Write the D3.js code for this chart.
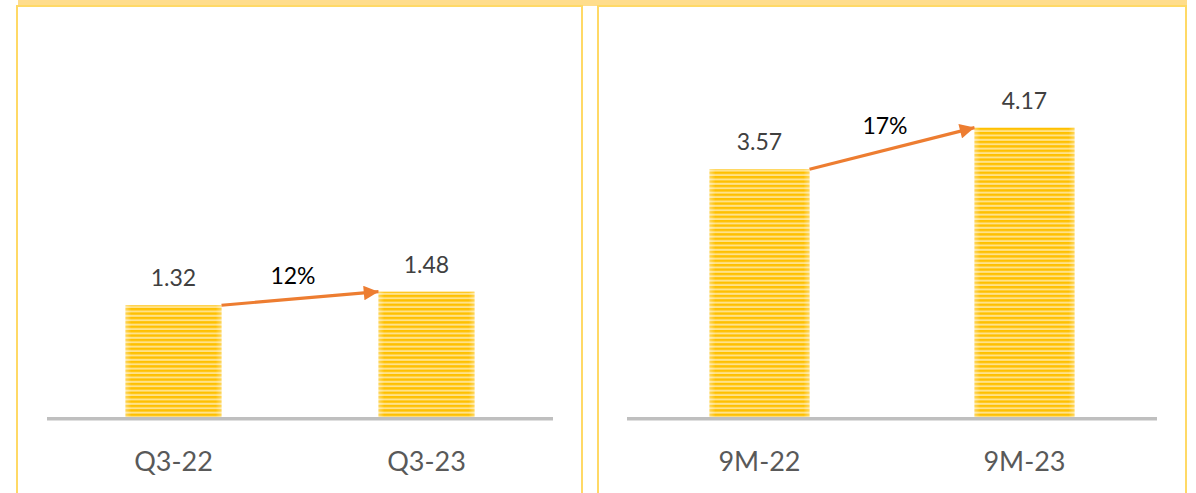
<!DOCTYPE html>
<html>
<head>
<meta charset="utf-8">
<script src="https://cdn.jsdelivr.net/npm/d3@7"></script>
<style>
  html, body { margin: 0; padding: 0; background: #fff; }
  svg { display: block; }
  .val { font-family: Lato, "Noto Sans", sans-serif; font-size: 23px; fill: #404040; text-anchor: middle; }
  .pct { font-family: Lato, "Noto Sans", sans-serif; font-size: 23px; fill: #000; text-anchor: middle; }
  .cat { font-family: Lato, "Noto Sans", sans-serif; font-size: 27px; fill: #595959; text-anchor: middle; }
</style>
</head>
<body>
<script>
// data
const quarterCats = ['Q3-22', 'Q3-23']
const quarterVals = [1.32, 1.48]
const quarterGrowth = '12%'

const ytdCats = ['9M-22', '9M-23']
const ytdVals = [3.57, 4.17]
const ytdGrowth = '17%'

const W = 1196, H = 493
const baseY = 417

const svg = d3.select('body').append('svg')
    .attr('width', W)
    .attr('height', H)

const defs = svg.append('defs')

// horizontal stripe fill for bars
const pat = defs.append('pattern')
    .attr('id', 'stripes')
    .attr('patternUnits', 'userSpaceOnUse')
    .attr('width', 8)
    .attr('height', 4.4)
pat.append('rect').attr('width', 8).attr('height', 4.4).attr('fill', '#FFE28A')
pat.append('rect').attr('width', 8).attr('height', 2.4).attr('fill', '#FFC000')

const edge = defs.append('linearGradient').attr('id', 'edge')
edge.append('stop').attr('offset', '0').attr('stop-color', '#fff').attr('stop-opacity', 0.35)
edge.append('stop').attr('offset', '0.06').attr('stop-color', '#fff').attr('stop-opacity', 0)
edge.append('stop').attr('offset', '0.94').attr('stop-color', '#fff').attr('stop-opacity', 0)
edge.append('stop').attr('offset', '1').attr('stop-color', '#fff').attr('stop-opacity', 0.35)

defs.append('marker')
    .attr('id', 'arrow')
    .attr('viewBox', '0 0 10 10')
    .attr('refX', 10)
    .attr('refY', 5)
    .attr('markerWidth', 5)
    .attr('markerHeight', 4.6)
    .attr('markerUnits', 'strokeWidth')
    .attr('orient', 'auto')
    .append('path')
    .attr('d', 'M0,0 L10,5 L0,10 Z')
    .attr('fill', '#ED7D31')

// frame: band across the top and two panel borders
svg.append('rect')
    .attr('x', 18).attr('y', 0)
    .attr('width', 1169).attr('height', 6)
    .attr('fill', '#FFDD8C')

const panels = [
    { x0: 17, x1: 582, axis: [47, 553], yMax: 4.5, yTop: 36, cats: quarterCats, vals: quarterVals, growth: quarterGrowth, barW: 96 },
    { x0: 598, x1: 1186, axis: [627, 1157], yMax: 5, yTop: 70, cats: ytdCats, vals: ytdVals, growth: ytdGrowth, barW: 100 }
]

function drawPanel (p) {
    const g = svg.append('g')

    g.append('rect')
        .attr('x', p.x0).attr('y', 6)
        .attr('width', p.x1 - p.x0).attr('height', H)
        .attr('fill', 'none')
        .attr('stroke', '#FFD966')
        .attr('stroke-width', 2)

    const x = d3.scalePoint()
        .domain(p.cats)
        .range(p.axis)
        .padding(0.5)
    const y = d3.scaleLinear()
        .domain([0, p.yMax])
        .range([baseY, p.yTop])

    const data = p.cats.map((c, i) => ({ cat: c, val: p.vals[i] }))

    const bars = g.selectAll('g.bar')
        .data(data)
        .enter()
        .append('g')
        .attr('class', 'bar')

    bars.append('rect')
        .attr('x', d => x(d.cat) - p.barW / 2)
        .attr('y', d => y(d.val))
        .attr('width', p.barW)
        .attr('height', d => baseY - y(d.val))
        .attr('fill', 'url(#stripes)')
    bars.append('rect')
        .attr('x', d => x(d.cat) - p.barW / 2)
        .attr('y', d => y(d.val))
        .attr('width', p.barW)
        .attr('height', d => baseY - y(d.val))
        .attr('fill', 'url(#edge)')

    bars.append('text')
        .attr('class', 'val')
        .attr('x', d => x(d.cat))
        .attr('y', d => y(d.val) - 19)
        .text(d => d.val.toFixed(2))

    // baseline
    g.append('rect')
        .attr('x', p.axis[0]).attr('y', baseY)
        .attr('width', p.axis[1] - p.axis[0]).attr('height', 3.5)
        .attr('fill', '#BFBFBF')

    g.selectAll('text.cat')
        .data(p.cats)
        .enter()
        .append('text')
        .attr('class', 'cat')
        .attr('x', d => x(d))
        .attr('y', 471)
        .text(d => d)

    // growth arrow from the first bar's top to the second's
    const a = data[0], b = data[1]
    const x1 = x(a.cat) + p.barW / 2, y1 = y(a.val)
    const x2 = x(b.cat) - p.barW / 2, y2 = y(b.val)
    g.append('line')
        .attr('x1', x1).attr('y1', y1)
        .attr('x2', x2).attr('y2', y2)
        .attr('stroke', '#ED7D31')
        .attr('stroke-width', 3.2)
        .attr('marker-end', 'url(#arrow)')

    g.append('text')
        .attr('class', 'pct')
        .attr('x', (x1 + x2) / 2 - 7)
        .attr('y', (y1 + y2) / 2 - 14)
        .text(p.growth)
}

panels.forEach(drawPanel)
</script>
</body>
</html>
